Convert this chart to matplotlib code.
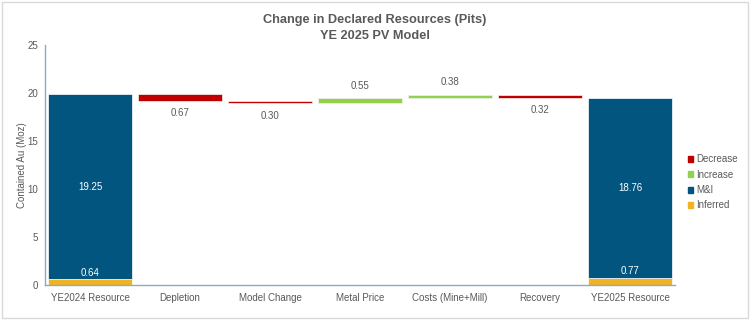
import matplotlib.pyplot as plt
from matplotlib.patches import Patch, Rectangle
import numpy as np

plt.rcParams['font.family'] = ['Liberation Sans', 'DejaVu Sans']

categories = ['YE2024 Resource', 'Depletion', 'Model Change', 'Metal Price',
              'Costs (Mine+Mill)', 'Recovery', 'YE2025 Resource']
start_inferred, start_mi = 0.64, 19.25
end_inferred, end_mi = 0.77, 18.76
changes = [-0.67, -0.30, 0.55, 0.38, -0.32]

c_dec = '#C00000'
c_inc = '#92D050'
c_mi = '#02557F'
c_inf = '#F0B323'
txt = '#595959'

fig = plt.figure(figsize=(7.5, 3.2), dpi=100)
fig.patches.append(Rectangle((0.003, 0.005), 0.994, 0.99, transform=fig.transFigure,
                             fill=False, edgecolor='#D9D9D9', linewidth=1))
ax = fig.add_axes([0.06, 0.109, 0.84, 0.75])

x = np.arange(len(categories))
w = 0.94
fs = 7

# start and end stacked bars
for xi, inf, mi in [(0, start_inferred, start_mi), (6, end_inferred, end_mi)]:
    ax.bar(xi, inf, w, color=c_inf, edgecolor='white', linewidth=0.5)
    ax.bar(xi, mi, w, bottom=inf, color=c_mi, edgecolor='white', linewidth=0.5)
    ax.text(xi, inf + 0.15, f'{inf:.2f}', ha='center', va='bottom', color='white', fontsize=fs)
    ax.text(xi, inf + mi / 2, f'{mi:.2f}', ha='center', va='center', color='white', fontsize=fs)

# floating change bars
level = start_inferred + start_mi
for i, ch in enumerate(changes, start=1):
    new = level + ch
    col = c_inc if ch > 0 else c_dec
    ax.bar(i, abs(ch), w, bottom=min(level, new), color=col, edgecolor='#F2F2F2', linewidth=0.5)
    if ch > 0:
        ax.text(i, max(level, new) + 0.8, f'{abs(ch):.2f}', ha='center', va='bottom', color=txt, fontsize=fs)
    else:
        ax.text(i, min(level, new) - 0.8, f'{abs(ch):.2f}', ha='center', va='top', color=txt, fontsize=fs)
    level = new

ax.set_xlim(-0.5, len(categories) - 0.5)
ax.set_ylim(0, 25)
ax.set_xticks(x)
ax.set_xticklabels(categories)
ax.set_yticks(range(0, 26, 5))
ax.tick_params(axis='x', length=0, colors=txt, labelsize=fs, pad=6)
ax.tick_params(axis='y', length=0, colors=txt, labelsize=fs, pad=5)
for s in ['top', 'right']:
    ax.spines[s].set_visible(False)
for s in ['left', 'bottom']:
    ax.spines[s].set_color('#8FAAC0')
    ax.spines[s].set_linewidth(1)
ax.set_ylabel('Contained Au (Moz)', color=txt, fontsize=fs, labelpad=0)

fig.text(0.5, 0.955, 'Change in Declared Resources (Pits)\nYE 2025 PV Model', ha='center', va='top',
         fontsize=9.2, fontweight='bold', color=txt, linespacing=1.45)

handles = [Patch(color=c_dec, label='Decrease'), Patch(color=c_inc, label='Increase'),
           Patch(color=c_mi, label='M&I'), Patch(color=c_inf, label='Inferred')]
leg = fig.legend(handles=handles, loc='center left', bbox_to_anchor=(0.905, 0.43), frameon=False,
                 fontsize=fs, handlelength=0.6, handleheight=0.6, handletextpad=0.3, labelspacing=0.55)
for t in leg.get_texts():
    t.set_color(txt)

fig.savefig('out.png', dpi=100)
